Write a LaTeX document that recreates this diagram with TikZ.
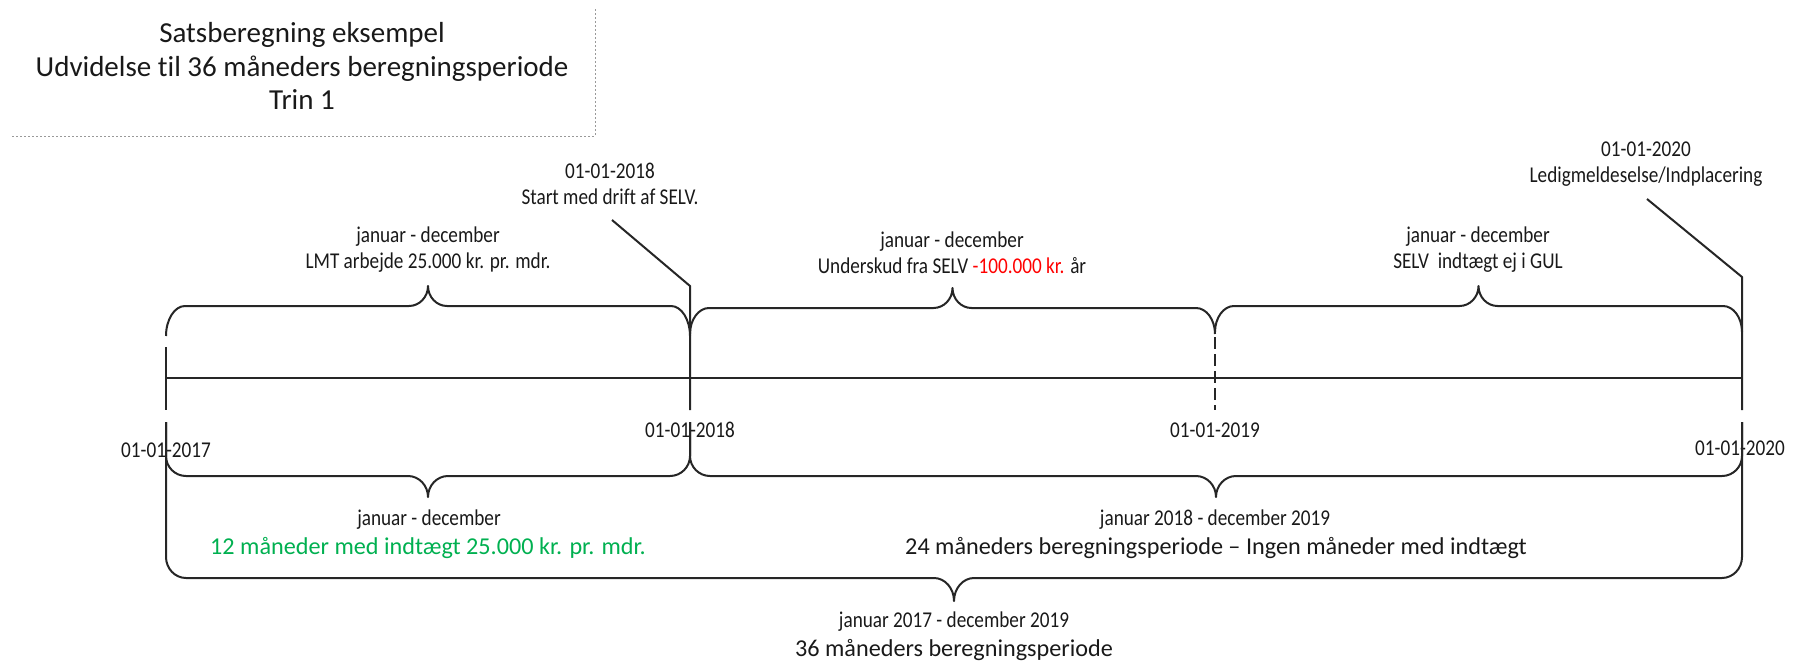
\documentclass[tikz,border=0pt]{standalone}
\usepackage{fontspec}
\setmainfont{Carlito}[Ligatures={NoCommon}]
\newfontfamily\narrowf[FakeStretch=0.85,Ligatures={NoCommon}]{Carlito}
\definecolor{offgreen}{HTML}{00B050}
\definecolor{offred}{HTML}{FF0000}
\newcommand{\mybrace}[7]{%
  \draw[brc] (#1,#3) -- (#1,#4)
    .. controls (#1,{#5+0.45*(#4-#5)}) and ({#1+0.45*#7},#5) .. ({#1+#7},#5)
    -- ({0.5*(#1+#2)-#7},#5)
    .. controls ({0.5*(#1+#2)-0.45*#7},#5) and ({0.5*(#1+#2)},{#6+0.55*(#5-#6)}) .. ({0.5*(#1+#2)},#6)
    .. controls ({0.5*(#1+#2)},{#6+0.55*(#5-#6)}) and ({0.5*(#1+#2)+0.45*#7},#5) .. ({0.5*(#1+#2)+#7},#5)
    -- ({#2-#7},#5)
    .. controls ({#2-0.45*#7},#5) and (#2,{#5+0.45*(#4-#5)}) .. (#2,#4)
    -- (#2,#3);}
\tikzset{
  brc/.style={line width=1pt, draw=black!85, line join=round},
  tl/.style={line width=1pt, draw=black!85},
  dsh/.style={line width=1pt, draw=black!85, dash pattern=on 6pt off 2.5pt},
  smalltxt/.style={inner sep=0pt, align=center, text=black!90, font=\narrowf\fontsize{11.3}{13}\selectfont},
  medtxt/.style={inner sep=0pt, align=center, text=black!90, font=\fontsize{12.1}{14}\selectfont},
  ttltxt/.style={inner sep=0pt, align=center, text=black!90, font=\fontsize{14.5}{16.8}\selectfont},
  ttlbox/.style={draw=black!40, line width=0.5pt, dash pattern=on 1pt off 1pt}
}
\begin{document}
\begin{tikzpicture}[x=0.5pt, y=-0.5pt]
\useasboundingbox (0,0) rectangle (1798,664);
% title
\draw[ttlbox] (12,136) -- (595,136) -- (595,8);
\node[ttltxt] (title) at (302,66) {Satsberegning eksempel\\Udvidelse til 36 måneders beregningsperiode\\Trin 1};
% event labels
\node[smalltxt] (ev18) at (610,184) {01-01-2018\\Start med drift af SELV.};
\node[smalltxt] (ev20) at (1646,164) {01-01-2020\\Ledigmeldeselse/Indplacering};
\coordinate (k18a) at (612,220);
\coordinate (k18b) at (690,286);
\coordinate (k20a) at (1647,199);
\coordinate (k20b) at (1742,277);
\coordinate (t17a) at (166,347);
\coordinate (t17b) at (166,410);
\coordinate (t18b) at (690,410);
\coordinate (t19a) at (1215,337);
\coordinate (t19b) at (1215,410);
\coordinate (t20b) at (1742,410);
\coordinate (m17) at (166,378);
\coordinate (m20) at (1742,378);
% main timeline
\draw[tl] (m17) -- (m20);
\draw[tl] (t17a) -- (t17b);
\draw[tl] (k18a) -- (k18b) -- (t18b);
\draw[dsh] (t19a) -- (t19b);
\draw[tl] (k20a) -- (k20b) -- (t20b);
% top braces
\mybrace{166}{690}{336}{336}{306}{286}{19}
\mybrace{690}{1215}{334}{334}{308}{288}{19}
\mybrace{1215}{1742}{332}{332}{306}{286}{19}
\node[smalltxt] (b1) at (428,250) {januar - december\\LMT arbejde 25.000 kr. pr. mdr.};
\node[smalltxt] (b2) at (952,253) {januar - december\\Underskud fra SELV \textcolor{offred}{-100.000 kr.} år};
\node[smalltxt] (b3) at (1478,250) {januar - december\\SELV\ \ indtægt ej i GUL};
% date labels
\node[smalltxt] (d17) at (166,450) {01-01-2017};
\node[smalltxt] (d18) at (690,430) {01-01-2018};
\node[smalltxt] (d19) at (1215,430) {01-01-2019};
\node[smalltxt] (d20) at (1740,448) {01-01-2020};
% lower braces
\mybrace{166}{690}{422}{456}{476}{497}{20}
\mybrace{690}{1742}{422}{456}{476}{497}{20}
\mybrace{166}{1742}{422}{557}{578}{601}{20}
\node[smalltxt] (l1a) at (429,520) {januar - december};
\node[medtxt, text=offgreen] (l1b) at (428,548) {12 måneder med indtægt 25.000 kr. pr. mdr.};
\node[smalltxt] (l2a) at (1215,520) {januar 2018 - december 2019};
\node[medtxt] (l2b) at (1216,548) {24 måneders beregningsperiode – Ingen måneder med indtægt};
\node[smalltxt] (l3a) at (954,622) {januar 2017 - december 2019};
\node[medtxt] (l3b) at (954,650) {36 måneders beregningsperiode};
\end{tikzpicture}
\end{document}
